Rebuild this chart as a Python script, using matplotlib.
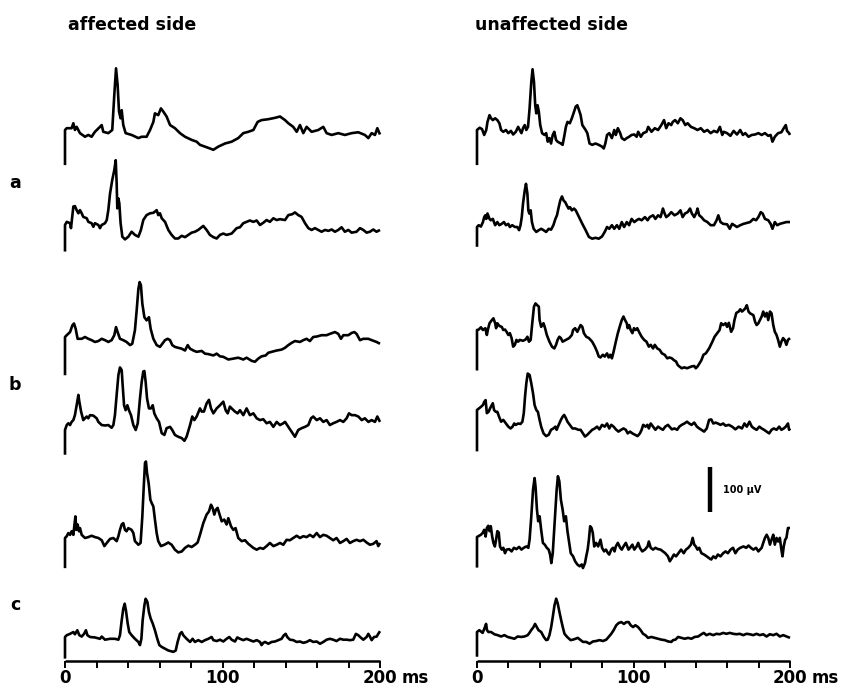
import numpy as np
import matplotlib
matplotlib.use('Agg')
import matplotlib.pyplot as plt

# ---- data: (time ms, amplitude uV); first point = start marker bottom
aff_a1 = [(0, -78), (0, 0), (1.1, 4), (4.2, 4), (5.3, 15), (6.3, 0), (7.4, 7), (9.5, -7), (12.7, -15), (14.8, -11),
          (16.9, -15), (19.0, -4), (22.2, 7), (23.3, 11), (24.3, -4), (27.5, -7), (30.0, 0), (31.3, 78), (32.4, 137),
          (33.4, 100), (34.3, 41), (35.3, 26), (36.0, 44), (37.0, 11), (38.5, -7), (42.3, -11), (46.6, -18),
          (48.7, -15), (51.8, -15), (54.0, 0), (56.1, 18), (57.1, 37), (59.2, 33), (60.9, 48), (62.4, 41),
          (64.5, 30), (66.7, 11), (69.8, 4), (73.0, -7), (76.2, -15), (80.4, -22), (83.6, -26), (85.7, -33),
          (88.9, -37), (92.0, -41), (94.2, -44), (97.3, -37), (101.6, -30), (105.8, -26), (110.0, -18),
          (113.2, -7), (116.4, -4), (119.6, 0), (122.3, 18), (124.8, 22), (129.1, 24), (133.3, 27), (136.5, 30),
          (139.7, 22), (141.8, 15), (144.9, 7), (147.1, -4), (149.2, 11), (151.3, -7), (153.4, 7), (156.6, -4),
          (160.8, 0), (164.0, 7), (166.1, -7), (169.3, -11), (173.5, -7), (177.7, -11), (182.0, -7), (186.2, -5),
          (190.4, -11), (192.6, -18), (194.7, -7), (196.8, -11), (198.3, 4), (200, -10)]

aff_a2 = [(0, -59), (0, 0), (1.1, 7), (3.2, 4), (3.8, -7), (5.3, 41), (6.3, 42), (7.4, 33), (8.5, 26), (9.5, 33),
          (10.6, 26), (11.6, 18), (13.8, 15), (14.8, 7), (16.9, 4), (18.0, -4), (19.0, 4), (21.2, 0), (22.2, -7),
          (23.3, 0), (25.4, 4), (26.5, 11), (27.5, 33), (28.6, 70), (30.0, 100), (31.3, 122), (32.2, 144),
          (32.8, 93), (33.2, 37), (33.9, 59), (34.5, 48), (35.3, 4), (36.4, -26), (38.1, -32), (40.2, -26),
          (42.3, -15), (44.4, -22), (46.6, -26), (48.2, -11), (49.7, 11), (51.8, 22), (54.0, 26), (56.1, 27),
          (58.2, 33), (59.2, 22), (60.3, 26), (61.4, 15), (63.5, 7), (65.6, -11), (67.7, -22), (69.8, -30),
          (71.9, -30), (74.1, -24), (76.2, -27), (78.3, -22), (80.4, -17), (82.5, -15), (84.6, -11), (87.8, -2),
          (89.9, -11), (92.0, -22), (94.2, -27), (96.3, -30), (98.4, -22), (100.5, -19), (102.6, -22),
          (105.8, -19), (109.0, -7), (111.1, -5), (113.2, 4), (115.3, 7), (117.4, 10), (119.6, 7), (121.7, 10),
          (123.8, 0), (125.9, 5), (128.0, 11), (130.1, 7), (132.3, 15), (134.4, 11), (136.5, 13), (139.7, 11),
          (141.8, 22), (144.3, 24), (146.0, 28), (148.1, 22), (150.2, 18), (152.4, 4), (154.5, -7), (156.6, -11),
          (158.7, -7), (160.8, -11), (162.9, -15), (165.1, -11), (167.2, -13), (169.3, -10), (171.4, -15),
          (173.5, -11), (175.6, -5), (177.7, -15), (179.9, -11), (182.0, -17), (185.1, -15), (187.3, -7),
          (189.4, -11), (191.5, -17), (193.6, -15), (195.7, -10), (197.8, -15), (200, -11)]

aff_b1 = [(0, -85), (0, 0), (1.1, 4), (3.2, 11), (4.7, 26), (5.7, 30), (6.8, 18), (8.0, -4), (10.6, -4), (12.7, 0),
          (14.8, -4), (16.9, -7), (19.0, -11), (21.2, -9), (23.3, -4), (25.4, -7), (27.5, -11), (29.6, -7),
          (31.3, 4), (32.4, 22), (33.4, 11), (34.9, -4), (37.0, -7), (39.1, -11), (41.3, -18), (42.7, -15),
          (44.4, 15), (45.5, 59), (46.6, 107), (47.4, 122), (48.2, 115), (49.1, 74), (50.4, 44), (51.8, 37),
          (53.3, 44), (54.4, 18), (56.1, -4), (58.2, -18), (60.3, -22), (61.8, -15), (63.5, -7), (65.2, -4),
          (66.7, -7), (68.1, -18), (69.8, -22), (71.9, -24), (74.1, -26), (76.2, -30), (77.9, -18), (79.4, -26),
          (81.5, -30), (83.6, -33), (86.8, -31), (88.9, -37), (91.0, -38), (94.2, -41), (96.3, -37), (98.4, -43),
          (100.5, -44), (103.7, -50), (106.9, -48), (110.0, -46), (113.2, -50), (115.3, -46), (118.5, -53),
          (120.6, -55), (122.7, -48), (124.8, -43), (127.4, -41), (129.1, -35), (131.2, -33), (134.4, -30),
          (137.5, -28), (139.7, -24), (141.8, -18), (143.9, -13), (146.0, -9), (149.2, -11), (151.3, -7),
          (153.4, -4), (155.5, -9), (157.6, 0), (159.8, 1), (162.9, 4), (166.1, 4), (168.2, 7), (171.4, 11),
          (173.5, 7), (175.2, -4), (176.7, 4), (179.9, 4), (182.0, 9), (183.7, 11), (185.1, 7), (187.3, -7),
          (189.4, -4), (192.6, -4), (194.7, -7), (197.8, -11), (200, -15)]

aff_b2 = [(0, -55), (0, 0), (1.1, 11), (2.1, 15), (3.2, 11), (4.2, 18), (5.3, 22), (6.3, 33), (7.4, 55), (8.5, 78),
          (9.1, 63), (10.2, 41), (11.6, 22), (12.7, 26), (13.8, 30), (14.8, 26), (15.9, 33), (18.0, 32),
          (20.1, 26), (21.2, 18), (23.3, 11), (25.4, 10), (27.5, 11), (29.6, 5), (30.7, 11), (31.7, 33),
          (32.8, 78), (33.9, 122), (34.9, 139), (36.0, 133), (36.6, 100), (37.5, 55), (38.5, 44), (39.6, 55),
          (40.6, 44), (41.9, 33), (43.4, 11), (44.9, 0), (46.2, 15), (47.6, 70), (48.7, 107), (49.7, 130),
          (50.4, 131), (51.2, 107), (52.1, 70), (53.3, 48), (54.6, 48), (55.7, 55), (56.7, 37), (58.2, 26),
          (59.7, 18), (61.4, -7), (63.1, -11), (64.5, 4), (66.7, 7), (68.1, 0), (69.8, -11), (71.9, -15),
          (74.1, -18), (75.8, -24), (77.2, -15), (79.4, 11), (80.8, 30), (82.1, 22), (83.6, 30), (85.7, 48),
          (86.8, 41), (88.2, 41), (89.9, 59), (91.4, 67), (92.7, 48), (94.2, 37), (96.3, 48), (98.4, 55),
          (100.5, 63), (102.0, 44), (103.3, 37), (104.7, 52), (105.8, 48), (107.9, 41), (109.6, 37), (111.1, 44),
          (113.2, 33), (115.3, 48), (117.4, 33), (119.6, 37), (121.7, 26), (123.8, 22), (125.9, 24), (128.0, 15),
          (130.1, 18), (132.3, 7), (134.4, 18), (136.5, 11), (138.6, 15), (139.7, 18), (141.8, 7), (143.9, -4),
          (146.0, -15), (148.1, 0), (150.2, 4), (152.4, 7), (154.5, 11), (156.2, 26), (157.6, 30), (159.8, 22),
          (161.9, 26), (164.0, 18), (166.1, 22), (168.2, 11), (170.3, 15), (172.4, 18), (174.6, 22), (176.7, 18),
          (178.8, 26), (180.3, 37), (182.0, 33), (184.1, 33), (186.2, 30), (188.4, 22), (190.4, 26), (192.6, 18),
          (194.7, 22), (196.8, 18), (198.3, 30), (199.4, 22), (200, 18)]

aff_c1 = [(0, -67), (0, 0), (1.1, 4), (2.1, 11), (3.2, 7), (4.2, 15), (5.3, 7), (5.9, 26), (6.6, 48), (7.2, 18),
          (8.0, 30), (8.9, 15), (9.5, 22), (10.6, 7), (12.7, 0), (14.8, 2), (16.9, 5), (19.0, 2), (21.2, 0),
          (23.3, -5), (25.0, -18), (26.5, -11), (28.6, -2), (30.7, 0), (32.8, -7), (33.9, 4), (34.9, 18),
          (36.0, 30), (37.0, 33), (38.1, 18), (39.1, 15), (40.2, 22), (42.3, 18), (43.4, 11), (44.4, -7),
          (46.6, -15), (48.0, -11), (49.1, 48), (49.9, 107), (50.8, 167), (51.4, 170), (52.1, 144), (53.1, 122),
          (54.2, 85), (55.0, 78), (56.1, 70), (57.1, 41), (58.2, 11), (59.2, -7), (60.9, -18), (63.1, -15),
          (65.6, -10), (67.7, -15), (69.8, -26), (71.9, -32), (74.1, -30), (76.2, -22), (78.3, -17), (80.4, -20),
          (82.5, -15), (84.2, -10), (85.7, 7), (87.8, 33), (89.9, 52), (91.4, 59), (92.7, 74), (93.7, 67),
          (94.8, 52), (95.8, 63), (96.9, 67), (97.9, 55), (99.5, 37), (101.1, 41), (102.6, 30), (103.7, 44),
          (105.4, 26), (106.9, 18), (108.3, 22), (110.0, 0), (112.2, -7), (114.3, -5), (116.4, -13), (119.6, -22),
          (121.7, -26), (123.8, -22), (125.9, -24), (128.0, -18), (130.1, -11), (132.3, -18), (134.4, -15),
          (136.5, -11), (138.6, -15), (140.7, -4), (142.8, -5), (144.9, 0), (147.1, 5), (149.2, 0), (151.3, 4),
          (153.4, 2), (155.5, 7), (157.6, 2), (159.8, 11), (161.9, 2), (164.0, 7), (166.1, 5), (168.2, 0),
          (170.3, -5), (172.4, 0), (174.6, -11), (176.7, -7), (178.8, -2), (180.9, -11), (183.0, -7), (185.1, -4),
          (187.3, -7), (189.4, -4), (191.5, -10), (193.6, -15), (195.7, -13), (197.8, -7), (198.9, -18), (200, -11)]

aff_c2 = [(0, -48), (0, 0), (1.1, 4), (3.2, 7), (5.3, 11), (6.3, 6), (7.8, 15), (9.1, 4), (10.6, 1), (12.1, 7),
          (13.3, 15), (14.2, 4), (15.9, 0), (19.0, -1), (22.2, -4), (23.3, 1), (25.4, -6), (28.6, -4), (31.7, -4),
          (33.9, -6), (34.9, 4), (36.0, 37), (37.0, 63), (37.9, 74), (38.7, 59), (39.8, 30), (40.8, 11), (42.3, 4),
          (44.4, -4), (46.6, -11), (47.6, -18), (48.5, -4), (49.3, 37), (50.4, 70), (51.2, 85), (52.3, 78),
          (53.3, 55), (54.4, 41), (55.7, 30), (57.1, 15), (58.6, -4), (59.9, -18), (61.4, -22), (63.5, -26),
          (65.6, -30), (68.8, -33), (70.3, -30), (71.5, -11), (73.0, 7), (74.1, 11), (75.1, 4), (77.2, -4),
          (79.4, -11), (81.0, -4), (82.5, -11), (84.6, -7), (86.8, -11), (88.9, -7), (91.0, -4), (93.1, 0),
          (94.2, -7), (96.3, -9), (98.4, -6), (100.5, -10), (102.6, -4), (104.3, 0), (105.8, -6), (107.9, -10),
          (109.4, -1), (111.1, -4), (113.2, -7), (115.3, -4), (117.4, -7), (119.6, -10), (121.7, -7), (123.8, -11),
          (124.8, -18), (125.9, -13), (127.0, -11), (129.1, -15), (131.2, -11), (133.3, -10), (135.4, -7),
          (137.5, -4), (139.0, 4), (140.1, 7), (141.1, 0), (142.8, -6), (144.9, -7), (147.1, -11), (149.2, -10),
          (151.3, -13), (153.4, -11), (155.5, -7), (157.6, -11), (159.8, -10), (161.9, -15), (164.0, -11),
          (166.1, -6), (168.2, -4), (170.3, -6), (172.4, -9), (174.6, -4), (176.7, -6), (178.8, -6), (180.9, -7),
          (183.0, -6), (184.7, 7), (186.2, 4), (187.7, -1), (189.4, -6), (191.5, 0), (192.6, 7), (193.6, 1),
          (194.7, -7), (196.2, 0), (197.9, 1), (198.9, 7), (200, 13)]

una_a1 = [(0, -78), (0, 0), (1.7, 5), (3.2, 2), (4.6, -11), (5.9, 0), (6.7, 18), (8.0, 33), (9.0, 26), (10.1, 22),
          (11.6, 26), (13.0, 22), (14.3, 15), (15.4, 0), (16.8, -4), (18.5, 0), (20.0, -7), (21.7, -2), (23.1, -10),
          (24.8, -4), (26.3, 7), (27.3, 0), (28.4, -7), (29.4, 4), (30.5, 11), (31.5, 0), (32.6, 7), (33.6, 48),
          (34.7, 107), (35.5, 135), (36.4, 107), (37.2, 55), (37.9, 37), (38.7, 55), (39.5, 41), (40.4, 11),
          (41.6, -7), (43.1, -11), (44.2, -7), (45.2, -26), (46.3, -18), (47.3, -30), (48.4, -11), (49.4, -4),
          (50.5, -22), (51.5, -26), (53.6, -30), (54.7, -33), (55.7, -15), (56.8, 7), (57.8, 18), (59.3, 15),
          (60.6, 26), (62.0, 41), (63.1, 52), (64.1, 55), (65.2, 44), (66.2, 33), (67.3, 11), (69.4, 0),
          (70.5, -7), (71.9, -30), (73.6, -33), (75.7, -30), (77.8, -33), (79.9, -37), (81.0, -41), (82.0, -30),
          (83.1, -11), (84.5, -7), (86.2, -18), (87.7, 0), (88.7, -11), (90.0, 4), (91.5, -7), (92.5, -18),
          (94.2, -22), (95.7, -18), (97.2, -15), (98.8, -11), (100.5, -10), (102.0, -15), (103.0, -4),
          (104.7, -15), (106.2, -7), (108.3, -4), (109.4, 7), (111.5, -4), (113.6, 4), (115.7, 0), (117.8, 11),
          (119.5, 22), (120.9, 4), (122.4, 15), (124.1, 11), (125.1, 18), (126.6, 22), (128.3, 15), (130.0, 26),
          (131.4, 22), (133.1, 11), (134.6, 15), (136.7, 7), (138.8, 4), (140.9, 0), (143.0, 4), (145.1, -4),
          (147.2, 0), (149.3, -7), (151.4, -2), (153.5, -5), (155.2, 7), (156.7, -11), (157.7, -4), (159.8, -7),
          (161.9, -13), (164.0, -2), (166.1, -10), (168.2, 0), (169.9, -11), (171.4, -7), (173.5, -15),
          (175.6, -11), (177.7, -10), (179.8, -7), (181.9, -11), (184.0, -7), (186.1, -13), (187.6, -11),
          (188.8, -26), (190.3, -15), (192.4, -7), (194.5, -5), (196.0, 4), (197.3, 11), (198.1, -2), (199.4, -7),
          (200, -11)]

una_a2 = [(0, -44), (0, 0), (1.1, 4), (2.5, 1), (3.8, 11), (4.6, 22), (5.3, 26), (5.9, 18), (6.7, 30), (8.0, 18),
          (8.8, 15), (10.1, 18), (11.6, 4), (13.0, 11), (14.3, 4), (15.8, 7), (17.2, 11), (18.5, 4), (20.0, 7),
          (21.0, 0), (22.5, 4), (24.2, 0), (25.7, 0), (26.9, -7), (27.8, 4), (28.6, 22), (29.4, 52), (30.5, 81),
          (31.3, 96), (32.2, 74), (32.8, 37), (33.4, 30), (34.3, 37), (35.1, 11), (36.2, -4), (37.9, -11),
          (39.5, -7), (41.0, -4), (42.5, -7), (44.2, -11), (45.8, -4), (47.3, -6), (48.8, 4), (50.1, 18),
          (51.1, 26), (52.2, 44), (53.2, 59), (54.3, 68), (55.3, 59), (56.4, 55), (57.4, 48), (58.5, 41),
          (59.5, 44), (60.6, 37), (62.0, 41), (63.1, 37), (65.2, 22), (67.3, 7), (69.4, -7), (71.5, -22),
          (73.6, -26), (75.7, -24), (77.8, -26), (79.9, -21), (81.6, -11), (83.1, 0), (84.5, -4), (86.2, 4),
          (87.7, -4), (89.4, 4), (90.9, -4), (92.5, 11), (94.0, 0), (95.7, 11), (97.2, 4), (98.8, 18),
          (100.5, 11), (102.0, 15), (103.5, 18), (105.2, 15), (107.3, 22), (109.0, 15), (110.4, 22), (112.5, 26),
          (114.0, 18), (115.7, 26), (117.3, 22), (118.8, 41), (119.9, 30), (120.9, 22), (122.4, 26), (124.1, 33),
          (126.2, 26), (128.3, 30), (130.0, 37), (131.4, 22), (132.9, 30), (134.6, 33), (136.1, 41), (137.3, 30),
          (138.8, 22), (140.3, 33), (140.9, 41), (142.0, 26), (143.4, 22), (145.1, 15), (147.2, 11), (149.3, 4),
          (151.4, 4), (153.1, 15), (154.2, 26), (155.6, 11), (157.3, 7), (159.8, 6), (161.5, -4), (163.0, 7),
          (164.4, 4), (166.1, 0), (168.2, 4), (170.3, 7), (172.4, 9), (174.5, 11), (176.6, 18), (178.3, 15),
          (179.8, 22), (181.3, 33), (182.5, 30), (184.0, 18), (186.1, 15), (187.6, 7), (188.8, -4), (190.3, 11),
          (191.8, 4), (193.5, 7), (195.6, 9), (197.7, 11), (200, 11)]

una_b1 = [(0, -90), (0, 0), (1.1, 1), (2.5, 6), (3.8, 0), (5.3, 4), (6.3, -11), (6.9, 0), (8.0, 15), (9.5, 22),
          (10.5, 26), (11.6, 15), (12.2, 4), (13.0, 15), (14.3, 9), (15.8, 7), (16.8, 0), (17.9, 1), (18.9, -4),
          (20.0, -11), (21.0, -7), (22.1, -18), (23.1, -37), (24.2, -33), (25.2, -22), (26.3, -26), (27.3, -22),
          (29.4, -24), (31.1, -21), (32.2, -15), (33.2, -26), (34.3, -22), (35.3, 15), (36.4, 52), (37.4, 59),
          (38.5, 55), (39.5, 52), (40.0, 22), (41.0, 7), (42.5, 15), (43.5, 4), (44.6, -11), (46.3, -26),
          (47.9, -37), (49.4, -41), (50.5, -33), (51.5, -22), (52.6, -15), (53.6, -18), (54.7, -26), (56.8, -22),
          (58.9, -18), (60.6, -11), (61.4, 0), (62.7, 4), (64.1, -4), (65.2, 4), (66.2, 11), (67.3, 7),
          (68.3, -7), (69.8, -15), (71.5, -18), (73.6, -26), (75.3, -37), (76.7, -48), (77.8, -59), (78.9, -61),
          (80.4, -55), (81.6, -59), (83.1, -52), (84.1, -61), (85.2, -55), (86.2, -63), (87.3, -48), (88.7, -26),
          (90.0, -7), (91.5, 11), (92.5, 22), (93.6, 30), (94.6, 22), (95.7, 15), (96.3, 4), (97.2, 11),
          (98.2, 0), (99.3, -7), (100.3, 4), (101.4, 0), (102.4, 4), (103.5, -4), (105.2, -15), (106.8, -22),
          (108.3, -26), (109.8, -37), (111.0, -33), (112.5, -41), (113.6, -33), (115.2, -41), (116.7, -44),
          (118.2, -52), (119.9, -55), (121.6, -63), (123.0, -61), (124.5, -63), (125.8, -67), (127.2, -70),
          (128.3, -78), (129.3, -81), (130.8, -85), (132.5, -83), (134.2, -85), (135.6, -83), (137.1, -81),
          (138.8, -80), (139.8, -85), (140.9, -81), (142.2, -74), (143.4, -67), (144.7, -55), (146.2, -52),
          (148.3, -41), (150.4, -26), (151.8, -15), (153.5, -7), (155.0, 0), (156.0, 15), (157.3, 11),
          (158.8, 15), (159.8, 7), (160.9, 16), (162.4, -4), (163.6, 4), (164.5, 22), (165.7, 38), (167.2, 41),
          (168.2, 46), (169.3, 41), (170.3, 44), (171.4, 48), (172.4, 55), (173.5, 41), (174.5, 37), (176.6, 33),
          (177.7, 18), (178.7, 11), (179.8, 15), (180.8, 22), (181.9, 30), (182.9, 41), (184.0, 30), (185.1, 38),
          (186.1, 22), (187.2, 41), (188.2, 37), (189.3, 11), (190.3, -4), (191.4, -11), (192.4, -22),
          (193.5, -37), (194.5, -26), (195.6, -18), (196.6, -22), (197.7, -33), (198.7, -22), (200, -18)]

una_b2 = [(0, -92), (0, 0), (2.5, 7), (3.8, 11), (4.6, 18), (5.5, 22), (6.3, -7), (7.4, -4), (8.4, 4), (9.5, 11),
          (10.1, 15), (10.9, 0), (12.0, -4), (13.0, -4), (14.1, -15), (15.4, -26), (16.8, -22), (18.5, -30),
          (20.0, -37), (21.5, -41), (22.7, -37), (23.8, -30), (24.8, -33), (26.3, -30), (27.8, -31), (29.0, -26),
          (29.9, -7), (30.7, 30), (31.5, 59), (32.4, 81), (33.6, 78), (34.7, 59), (35.8, 37), (36.8, 11),
          (37.9, 0), (38.9, -4), (40.0, -22), (41.0, -37), (42.5, -52), (44.2, -58), (45.8, -55), (47.3, -44),
          (48.8, -41), (50.1, -37), (50.9, -44), (52.2, -33), (53.6, -22), (54.7, -15), (55.7, -11), (56.8, -18),
          (57.8, -26), (59.3, -33), (61.0, -41), (62.7, -41), (64.8, -44), (66.2, -44), (67.7, -52), (69.0, -59),
          (70.5, -55), (71.9, -50), (73.6, -44), (75.3, -41), (76.7, -37), (78.2, -43), (79.9, -33), (81.6, -37),
          (83.1, -30), (84.5, -41), (85.8, -33), (87.3, -37), (88.7, -43), (90.4, -48), (92.1, -44), (93.6, -41),
          (95.1, -44), (96.3, -52), (97.8, -48), (99.3, -52), (100.9, -55), (102.6, -58), (104.1, -52),
          (105.2, -44), (106.2, -33), (107.7, -37), (108.9, -33), (109.8, -41), (111.0, -30), (112.5, -37),
          (114.0, -44), (115.7, -37), (117.3, -41), (118.8, -44), (120.3, -37), (122.0, -33), (123.0, -37),
          (124.5, -43), (126.2, -41), (127.9, -44), (129.3, -37), (130.8, -33), (132.5, -30), (134.2, -26),
          (135.6, -30), (137.1, -33), (138.8, -28), (140.5, -37), (142.0, -41), (143.4, -44), (145.1, -48),
          (146.8, -41), (148.3, -22), (149.7, -21), (151.0, -30), (152.5, -28), (153.9, -30), (155.6, -33),
          (157.3, -30), (158.8, -35), (160.9, -33), (163.0, -37), (165.1, -43), (167.2, -37), (169.3, -41),
          (170.9, -30), (172.4, -37), (174.1, -26), (175.6, -37), (177.1, -41), (178.7, -44), (180.4, -37),
          (181.9, -41), (183.4, -44), (185.1, -48), (186.7, -52), (188.2, -44), (189.7, -41), (191.4, -44),
          (193.1, -37), (194.5, -44), (196.0, -41), (197.3, -37), (198.7, -30), (199.4, -44), (200, -41)]

una_c1 = [(0, -68), (0, 0), (2.5, 5), (3.6, 9), (4.6, 16), (5.5, 1), (6.3, 20), (7.2, 25), (8.0, 13), (8.8, 24),
          (9.7, 1), (10.5, -13), (11.4, -21), (12.2, -6), (13.0, 13), (13.9, 10), (14.7, -21), (15.8, -28),
          (16.8, -24), (17.9, -36), (18.9, -28), (20.6, -27), (22.1, -32), (23.6, -24), (25.2, -27), (26.9, -22),
          (28.4, -28), (29.9, -24), (31.5, -21), (32.8, -24), (33.6, -6), (34.7, 46), (35.8, 105), (36.8, 131),
          (37.4, 112), (38.3, 61), (39.1, 35), (40.0, 46), (41.0, 16), (42.1, -13), (43.3, -17), (44.6, -24),
          (45.8, -28), (46.7, -39), (47.5, -58), (48.4, -36), (49.2, 9), (50.1, 61), (50.9, 105), (51.7, 135),
          (52.6, 124), (53.6, 83), (54.7, 61), (55.7, 35), (56.8, 46), (57.8, 13), (58.9, -13), (59.9, -36),
          (61.4, -43), (62.7, -54), (64.1, -61), (65.6, -65), (66.9, -61), (67.7, -69), (69.0, -58), (69.8, -43),
          (70.7, -28), (71.5, -6), (72.3, 24), (73.2, 20), (74.0, 9), (74.9, -21), (76.1, -13), (77.4, -21),
          (78.9, -6), (79.9, -24), (81.2, -32), (82.4, -28), (83.7, -36), (84.5, -39), (85.8, -28), (86.9, -24),
          (87.9, -32), (88.7, -21), (90.0, -13), (91.5, -24), (92.5, -28), (93.6, -21), (95.1, -13), (96.8, -28),
          (97.8, -24), (99.3, -17), (100.5, -28), (102.0, -21), (103.0, -13), (104.1, -24), (105.6, -32),
          (107.3, -28), (109.0, -21), (109.8, -10), (111.0, -24), (112.5, -28), (114.0, -24), (115.7, -27),
          (117.3, -28), (118.8, -32), (120.3, -36), (122.0, -43), (123.2, -54), (124.5, -47), (125.8, -39),
          (127.2, -43), (128.7, -36), (130.4, -28), (132.1, -36), (133.5, -28), (135.0, -24), (136.7, -17),
          (137.8, -2), (138.8, -17), (139.8, -21), (140.9, -28), (142.0, -24), (143.4, -36), (145.1, -39),
          (146.8, -43), (148.3, -47), (149.7, -50), (151.0, -43), (152.5, -47), (153.9, -39), (155.6, -43),
          (157.3, -36), (158.8, -32), (160.3, -36), (162.0, -28), (163.6, -24), (165.1, -36), (166.6, -28),
          (168.2, -24), (170.3, -21), (172.0, -24), (173.5, -19), (175.0, -24), (176.6, -28), (178.3, -24),
          (179.8, -32), (180.8, -28), (181.9, -24), (182.9, -13), (184.0, -2), (185.1, 5), (186.1, -2),
          (187.2, -17), (188.2, -6), (189.3, 5), (190.3, -17), (191.4, -2), (192.4, -10), (193.5, -2),
          (194.5, -28), (195.2, -43), (196.0, -21), (196.9, -6), (197.7, -2), (198.7, 20), (200, 20)]

una_c2 = [(0, -55), (0, 0), (1.5, 4), (3.6, -2), (5.1, 11), (5.8, 18), (6.4, 4), (7.3, 0), (9.0, 0), (11.1, -5),
          (13.2, -7), (15.4, -10), (17.5, -7), (19.6, -11), (21.8, -13), (23.9, -15), (26.0, -10), (28.2, -11),
          (30.3, -10), (32.4, -7), (33.5, -2), (34.6, 4), (36.1, 11), (37.1, 18), (38.2, 11), (39.3, 4), (41.0, 0),
          (42.7, -11), (44.2, -18), (45.2, -17), (46.3, -7), (47.4, 11), (48.4, 33), (49.5, 59), (50.6, 74),
          (51.6, 63), (52.7, 44), (53.8, 26), (54.8, 11), (55.9, -4), (57.6, -11), (59.8, -18), (61.3, -17),
          (63.0, -15), (64.4, -13), (66.2, -18), (67.7, -22), (69.8, -22), (71.9, -26), (74.1, -21), (76.2, -20),
          (78.3, -18), (80.5, -20), (82.6, -17), (84.1, -11), (85.8, -4), (87.3, 4), (89.0, 15), (90.5, 20),
          (92.2, 22), (93.9, 18), (95.4, 22), (96.9, 22), (98.2, 15), (99.7, 11), (101.2, 15), (102.9, 11),
          (104.6, 4), (106.1, -4), (107.6, -7), (109.3, -13), (111.4, -11), (113.5, -13), (115.7, -15),
          (117.8, -17), (119.9, -18), (122.1, -21), (124.2, -22), (125.3, -18), (126.8, -17), (128.5, -11),
          (130.6, -13), (132.7, -15), (134.9, -13), (137.0, -15), (139.1, -11), (141.3, -10), (143.4, -5),
          (144.9, -2), (146.6, -7), (148.7, -4), (150.9, -7), (153.0, -4), (155.1, -5), (157.3, -2), (159.4, -4),
          (161.5, -2), (163.7, -4), (165.8, -5), (167.9, -4), (170.1, -7), (172.2, -4), (174.3, -5), (176.5, -7),
          (178.6, -4), (180.7, -7), (182.9, -5), (185.0, -10), (187.1, -5), (189.3, -7), (191.4, -4), (193.5, -10),
          (195.7, -7), (197.8, -10), (200, -13)]

affected = [aff_a1, aff_a2, aff_b1, aff_b2, aff_c1, aff_c2]
unaffected = [una_a1, una_a2, una_b1, una_b2, una_c1, una_c2]
row_labels = ['a', 'b', 'c']
tick_ms = list(range(0, 201, 20))
tick_labels = {0: '0', 100: '100', 200: '200'}
scale_uv = 100

# ---- layout (pixel geometry of the 845x695 canvas)
W, H = 845, 695
UV_PX = 0.45            # pixels per microvolt
left_x0, left_px_ms = 65, 1.575
right_x0, right_px_ms = 477, 1.565
left_base = [130, 225, 337, 430, 538, 637]
right_base = [130, 227, 330, 410, 537, 632]
axis_y = 661

fig = plt.figure(figsize=(W / 100, H / 100), dpi=100)


def make_ax(x0, pxms):
    ax = fig.add_axes([0, 0, 1, 1])
    ax.set_xlim(-x0 / pxms, (W - x0) / pxms)
    ax.set_ylim(0, H / UV_PX)
    ax.axis('off')
    ax.patch.set_alpha(0)
    return ax


def ypos(px):
    return (H - px) / UV_PX


ax_l = make_ax(left_x0, left_px_ms)
ax_r = make_ax(right_x0, right_px_ms)

for ax, traces, bases in [(ax_l, affected, left_base), (ax_r, unaffected, right_base)]:
    for tr, b in zip(traces, bases):
        arr = np.array(tr, dtype=float)
        ax.plot(arr[:, 0], arr[:, 1] + ypos(b), color='black', lw=1.9,
                solid_joinstyle='round', solid_capstyle='butt')
    # time axis
    ya = ypos(axis_y)
    ax.plot([0, 200], [ya, ya], color='black', lw=1.8, solid_capstyle='butt')
    ax.vlines(tick_ms, ya - 7 / UV_PX, ya, color='black', lw=1.4)
    for t, s in tick_labels.items():
        ax.text(t, ypos(678), s, ha='center', va='center', fontsize=12, fontweight='bold')
    ax.text(213.5, ypos(678), 'ms', ha='left', va='center', fontsize=12, fontweight='bold')

# scale bar
sb_t = (710 - right_x0) / right_px_ms
ax_r.plot([sb_t, sb_t], [ypos(512), ypos(512) + scale_uv], color='black', lw=3.2, solid_capstyle='butt')
ax_r.text(sb_t + 8, ypos(490), '100 µV', ha='left', va='center', fontsize=7, fontweight='bold')

fig.text(68 / W, 1 - 25 / H, 'affected side', ha='left', va='center', fontsize=12.5, fontweight='bold')
fig.text(475 / W, 1 - 25 / H, 'unaffected side', ha='left', va='center', fontsize=12.5, fontweight='bold')
for lab, py in zip(row_labels, [183, 385, 605]):
    fig.text(15 / W, 1 - py / H, lab, ha='center', va='center', fontsize=12.5, fontweight='bold')

fig.savefig('out.png', dpi=100, facecolor='white')
